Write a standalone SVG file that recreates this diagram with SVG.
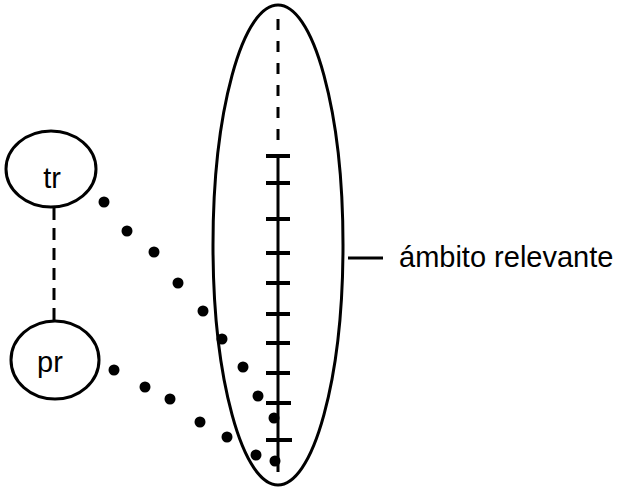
<svg xmlns="http://www.w3.org/2000/svg" width="632" height="488" viewBox="0 0 632 488">
<style>
.o{fill:none;stroke:#000;stroke-width:3}
.l{stroke:#000;stroke-width:3;fill:none}
.t{stroke:#000;stroke-width:4}
.d{fill:#000}
text{font-family:"Liberation Sans",Arial,sans-serif;font-size:29px;fill:#000}
</style>
<rect width="632" height="488" fill="#fff"/>
<g id="ambito">
<ellipse class="o" cx="278" cy="245" rx="65" ry="240"/>
</g>
<g id="tr">
<ellipse class="o" cx="51" cy="169" rx="45" ry="38"/>
<text x="52" y="188" text-anchor="middle">tr</text>
</g>
<g id="pr">
<ellipse class="o" cx="55" cy="360" rx="44" ry="39"/>
<text x="50" y="372" text-anchor="middle">pr</text>
</g>
<g id="scale">
<line class="l" x1="278" y1="19" x2="278" y2="141" stroke-dasharray="11 11"/>
<line class="l" x1="278" y1="156" x2="278" y2="472"/>
<g class="t">
<line x1="266" y1="156" x2="290" y2="156"/>
<line x1="266" y1="183" x2="290" y2="183"/>
<line x1="266" y1="219" x2="290" y2="219"/>
<line x1="266" y1="253" x2="290" y2="253"/>
<line x1="266" y1="283" x2="290" y2="283"/>
<line x1="266" y1="314" x2="290" y2="314"/>
<line x1="266" y1="343" x2="290" y2="343"/>
<line x1="266" y1="373" x2="290" y2="373"/>
<line x1="266" y1="403" x2="291" y2="403"/>
<line x1="266" y1="440" x2="292" y2="440"/>
</g>
</g>
<g id="connectors">
<line class="l" x1="54" y1="208" x2="54" y2="321" stroke-dasharray="12 8"/>
<line class="l" x1="348" y1="258" x2="383" y2="258"/>
<g class="d">
<circle cx="104" cy="202" r="5.5"/>
<circle cx="127" cy="231" r="5.5"/>
<circle cx="154" cy="252" r="5.5"/>
<circle cx="178" cy="283" r="5.5"/>
<circle cx="203" cy="311" r="5.5"/>
<circle cx="222" cy="339" r="5.5"/>
<circle cx="243" cy="367" r="5.5"/>
<circle cx="258" cy="396" r="5.5"/>
<circle cx="274" cy="418" r="5.5"/>
<circle cx="275" cy="461" r="5.5"/>
<circle cx="114" cy="370" r="5.5"/>
<circle cx="145" cy="387" r="5.5"/>
<circle cx="170" cy="399" r="5.5"/>
<circle cx="200" cy="422" r="5.5"/>
<circle cx="227" cy="437" r="5.5"/>
<circle cx="256" cy="455" r="5.5"/>
</g>
</g>
<g id="label">
<text x="399" y="267">ámbito relevante</text>
</g>
</svg>
